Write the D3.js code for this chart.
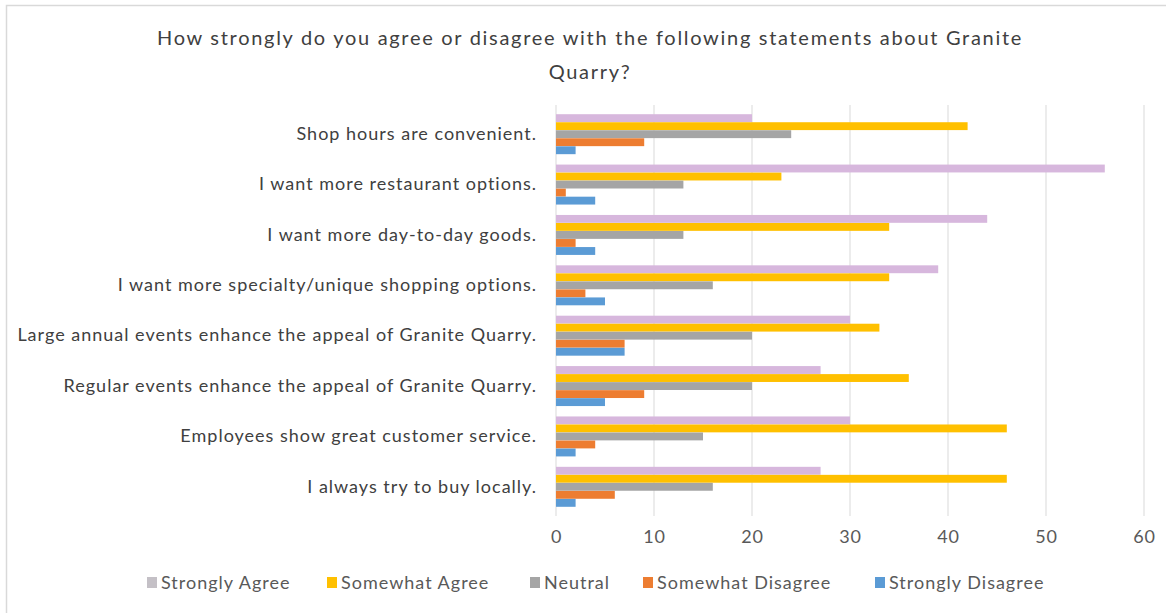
<!DOCTYPE html>
<html>
<head>
<meta charset="utf-8">
<script src="https://cdn.jsdelivr.net/npm/d3@7"></script>
<style>
  html, body { margin: 0; padding: 0; background: #fff; }
  svg { display: block; }
  text { font-family: Lato, "Open Sans", sans-serif; }
</style>
</head>
<body>
<svg id="chart" width="1166" height="613"></svg>
<script>
// Survey statements (top to bottom)
const statements = [
  "Shop hours are convenient.",
  "I want more restaurant options.",
  "I want more day-to-day goods.",
  "I want more specialty/unique shopping options.",
  "Large annual events enhance the appeal of Granite Quarry.",
  "Regular events enhance the appeal of Granite Quarry.",
  "Employees show great customer service.",
  "I always try to buy locally."
];

// Response counts per statement
const stronglyAgree    = [20, 56, 44, 39, 30, 27, 30, 27];
const somewhatAgree    = [42, 23, 34, 34, 33, 36, 46, 46];
const neutral          = [24, 13, 13, 16, 20, 20, 15, 16];
const somewhatDisagree = [9, 1, 2, 3, 7, 9, 4, 6];
const stronglyDisagree = [2, 4, 4, 5, 7, 5, 2, 2];

const seriesNames = ["Strongly Agree", "Somewhat Agree", "Neutral", "Somewhat Disagree", "Strongly Disagree"];
const seriesValues = [stronglyAgree, somewhatAgree, neutral, somewhatDisagree, stronglyDisagree];
const xTicks = [0, 10, 20, 30, 40, 50, 60];

const barColors = ["#d7b7dd", "#ffc000", "#a5a5a5", "#ed7d31", "#5b9bd5"];
const swatchColors = ["#c4c0c6", "#ffc000", "#a5a5a5", "#ed7d31", "#5b9bd5"];

const svg = d3.select("#chart");

// chart frame
svg.append("rect")
  .attr("x", 6.5).attr("y", 5.5)
  .attr("width", 1200).attr("height", 700)
  .attr("fill", "none").attr("stroke", "#d9d9d9").attr("stroke-width", 1.5);

// title
const title = svg.append("text")
  .attr("text-anchor", "middle")
  .attr("fill", "#404040")
  .style("font-size", "20px")
  .style("letter-spacing", "1.7px");
title.append("tspan").attr("x", 590).attr("y", 45)
  .text("How strongly do you agree or disagree with the following  statements about Granite");
title.append("tspan").attr("x", 590).attr("y", 79).text("Quarry?");

const x = d3.scaleLinear().domain([0, 60]).range([556, 1144]);
const y = d3.scaleBand().domain(statements).range([109, 512]).paddingInner(0.2).paddingOuter(0.1);
const ySub = d3.scaleBand().domain(seriesNames).range([0, y.bandwidth()]).padding(0.02);

// vertical gridlines
svg.append("g")
  .selectAll("line")
  .data(xTicks)
  .join("line")
  .attr("x1", d => x(d)).attr("x2", d => x(d))
  .attr("y1", 105).attr("y2", 516)
  .attr("stroke", "#d9d9d9").attr("stroke-width", 1);

// x axis labels
const xAxis = d3.axisBottom(x).tickValues(xTicks).tickSize(0).tickPadding(0);
const gx = svg.append("g").attr("transform", "translate(0,530)").call(xAxis);
gx.select(".domain").remove();
gx.selectAll("text")
  .attr("dy", "0.71em")
  .attr("fill", "#595959")
  .style("font-size", "18px")
  .style("letter-spacing", "0.8px")
  .style("font-family", "Lato, 'Open Sans', sans-serif");

// category labels
const yAxis = d3.axisLeft(y).tickSize(0).tickPadding(0);
const gy = svg.append("g").attr("transform", "translate(537,0)").call(yAxis);
gy.select(".domain").remove();
gy.selectAll("text")
  .attr("fill", "#404040")
  .style("font-size", "18px")
  .style("letter-spacing", "1px")
  .style("font-family", "Lato, 'Open Sans', sans-serif");

// bars
const groups = svg.append("g")
  .selectAll("g")
  .data(statements)
  .join("g")
  .attr("transform", d => `translate(0,${y(d)})`);

groups.selectAll("rect")
  .data((d, i) => seriesNames.map((s, j) => ({ series: s, value: seriesValues[j][i], color: barColors[j] })))
  .join("rect")
  .attr("x", x(0))
  .attr("y", d => ySub(d.series))
  .attr("height", ySub.bandwidth())
  .attr("width", d => x(d.value) - x(0))
  .attr("fill", d => d.color);

// legend
const legendX = [147, 327, 530, 643, 875];
const legend = svg.append("g")
  .selectAll("g")
  .data(seriesNames)
  .join("g")
  .attr("transform", (d, i) => `translate(${legendX[i]},577)`);
legend.append("rect")
  .attr("width", 10).attr("height", 11)
  .attr("fill", (d, i) => swatchColors[i]);
legend.append("text")
  .attr("x", 14).attr("y", 5.5).attr("dy", "0.35em")
  .attr("fill", "#595959")
  .style("font-size", "18px")
  .style("letter-spacing", "1px")
  .text(d => d);
</script>
</body>
</html>
